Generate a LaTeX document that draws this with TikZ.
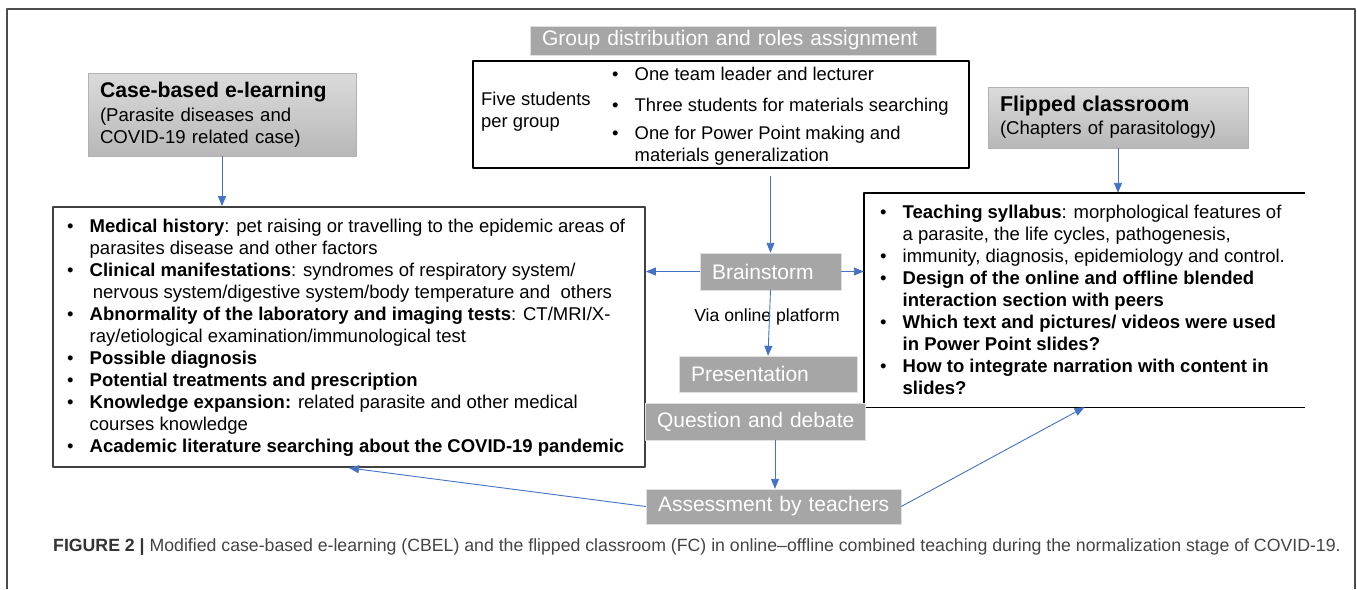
\documentclass[tikz,border=0pt]{standalone}
\usepackage{fontspec}
\setmainfont{Liberation Sans}
\usetikzlibrary{arrows.meta,positioning}
\definecolor{boxgray}{HTML}{A6A6A6}
\definecolor{arrowblue}{HTML}{4472C4}
\definecolor{captext}{HTML}{444444}
\newcommand{\bul}{\makebox[22.5pt][l]{\textbullet}}
\newcommand{\ind}{\hspace*{22.5pt}}
\begin{document}
\begin{tikzpicture}[x=1pt, y=-1pt, line join=round,
  proc/.style={fill=boxgray, draw=black!12, text=white, font=\fontsize{21}{22}\selectfont,
    inner xsep=12pt, inner ysep=0pt, align=left},
  head/.style={top color=black!14, bottom color=black!28, draw=black!30, inner xsep=12pt,
    inner ysep=0pt, align=left, font=\fontsize{18.6}{22}\selectfont},
  list/.style={draw, line width=1.4pt},
  arr/.style={-{Triangle[length=10pt,width=8pt]}, arrowblue, line width=0.9pt}]
\fill[white] (0,0) rectangle (1357,589);
\useasboundingbox (0,0) rectangle (1357,589);
% frame
\draw[black!70, line width=1.2pt] (7,589) -- (7,9) -- (1355,9) -- (1355,589);

% group work
\node[proc, text width=382, minimum height=29] (grptitle) at (733,40.5) {\mbox{Group distribution and roles assignment}};
\node[list, minimum width=496, minimum height=107] (grp) at (721,114.5) {};
\node[anchor=west, align=left, inner sep=0, font=\fontsize{18.4}{22}\selectfont] (five) at (481,112) {Five students\\per group};
\node[anchor=west, inner sep=0, font=\fontsize{18.4}{22}\selectfont] (g1) at (612,74) {\bul One team leader and lecturer};
\node[anchor=west, inner sep=0, font=\fontsize{18.4}{22}\selectfont] (g2) at (612,107) {\bul Three students for materials searching};
\node[anchor=west, align=left, inner sep=0, font=\fontsize{18.4}{22}\selectfont] (g3) at (612,146) {\bul One for Power Point making and\\\ind materials generalization};

% the two approaches
\node[head, text width=244, minimum height=83] (cbel) at (222,114.5)
  {\textbf{\fontsize{21.2}{24}\selectfont Case-based e-learning}\\[2pt](Parasite diseases and\\COVID-19 related case)};
\node[head, text width=236, minimum height=61] (fc) at (1118,117.5)
  {\textbf{\fontsize{21.4}{24}\selectfont Flipped classroom}\\[1pt](Chapters of parasitology)};

% left list
\node[list, draw=black!75, line width=1.8pt, minimum width=592, minimum height=260] (cbelbox) at (349,337) {};
\node[anchor=west, align=left, inner sep=0, font=\fontsize{18.5}{22}\selectfont] (cbeltext) at (67,338) {%
\bul\textbf{Medical history}: pet raising or travelling to the epidemic areas of\\
\ind parasites disease and other factors\\
\bul\textbf{Clinical manifestations}: syndromes of respiratory system/\\
\ind\,nervous system/digestive system/body temperature and\ \ others\\
\bul\textbf{Abnormality of the laboratory and imaging tests}: CT/MRI/X-\\
\ind ray/etiological examination/immunological test\\
\bul\textbf{Possible diagnosis}\\
\bul\textbf{Potential treatments and prescription}\\
\bul\textbf{Knowledge expansion:} related parasite and other medical\\
\ind courses knowledge\\
\bul\textbf{Academic literature searching about the COVID-19 pandemic}};

% right list, open on the right
\node[minimum width=441, minimum height=214] (fcbox) at (1084.5,300) {};
\draw[line width=1.4pt] (fcbox.north east) -- (fcbox.north west) -- (fcbox.south west) -- (fcbox.south east);
\node[anchor=west, align=left, inner sep=0, font=\fontsize{18.5}{22}\selectfont] (fctext) at (880,300) {%
\bul\textbf{Teaching syllabus}: morphological features of\\
\ind a parasite, the life cycles, pathogenesis,\\
\bul immunity, diagnosis, epidemiology and control.\\
\bul\textbf{Design of the online and offline blended}\\
\ind\textbf{interaction section with peers}\\
\bul\textbf{Which text and pictures/ videos were used}\\
\ind\textbf{in Power Point slides?}\\
\bul\textbf{How to integrate narration with content in}\\
\ind\textbf{slides?}};

% steps in the middle
\node[proc, text width=117, minimum height=37] (brain) at (770.5,271.5) {\mbox{Brainstorm}};
\node[proc, text width=154, minimum height=36] (pres) at (768,374) {\mbox{Presentation}};
\node[proc, text width=196, minimum height=37] (quest) at (755,421.5) {\mbox{Question and debate}};
\node[proc, text width=231, minimum height=35] (assess) at (773.5,506.5) {\mbox{Assessment by teachers}};
\node[font=\fontsize{17.6}{20}\selectfont, inner sep=0] (via) at (767,317) {Via online platform};

% arrows
\draw[arr] (cbel.south) -- (cbel.south |- cbelbox.north);
\draw[arr] (fc.south) -- (fc.south |- fcbox.north);
\draw[arr] ([yshift=-7pt]grp.south -| brain.north) -- (brain.north);
\draw[arr] (brain.west) -- (brain.west -| cbelbox.east);
\draw[arr] (brain.east) -- (brain.east -| fcbox.west);
\draw[arr] (brain.south) -- (pres.north);
\draw[arr] ([xshift=20pt]quest.south) -- ([xshift=20pt]quest.south |- assess.north);
\draw[arr] (assess.west) -- (cbelbox.south);
\draw[arr] (assess.east) -- (fcbox.south);

% caption
\node[anchor=west, inner sep=0, text=captext, font=\fontsize{17.7}{20}\selectfont] (cap) at (53,547)
  {\textbf{\color{black!80}FIGURE 2 |} Modified case-based e-learning (CBEL) and the flipped classroom (FC) in online–offline combined teaching during the normalization stage of COVID-19.};
\end{tikzpicture}
\end{document}
